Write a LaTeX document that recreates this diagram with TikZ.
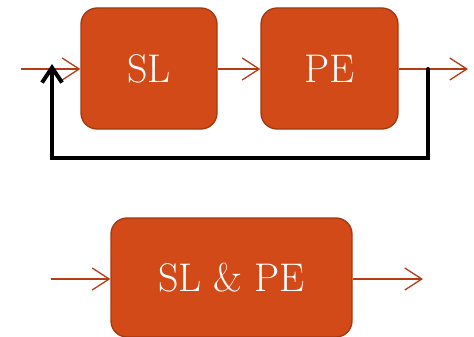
\documentclass[tikz,border=0pt]{standalone}
\usetikzlibrary{arrows.meta}
\definecolor{boxfill}{HTML}{D14A17}
\definecolor{boxline}{HTML}{A3380F}
\definecolor{flow}{HTML}{B53B12}
\begin{document}
\begin{tikzpicture}[x=1pt,y=-1pt,
  block/.style={draw=boxline, line width=1.3pt, fill=boxfill, rounded corners=16pt,
    text=white, font=\fontsize{40}{42}\selectfont, inner sep=0pt},
  flowarrow/.style={draw=flow, line width=1.3pt,
    -{Straight Barb[length=17pt,width=22pt,line width=1.3pt]}},
  feedback/.style={draw=black, line width=4pt,
    -{Straight Barb[length=15pt,width=20pt,line width=4pt]}}]
\useasboundingbox (0,0) rectangle (474,337);
% upper chain
\node[block, minimum width=136pt, minimum height=121pt] (sl) at (149,68.5) {SL};
\node[block, minimum width=137pt, minimum height=121pt] (pe) at (329.5,68.5) {PE};
\coordinate (in) at (21,69);
\coordinate (out) at (468,69);
\coordinate (tap) at (428,69);
\coordinate (join) at (52,69);
\draw[flowarrow] (in) -- (sl.west |- in);
\draw[flowarrow] (sl.east |- in) -- (pe.west |- in);
\draw[flowarrow] (pe.east |- in) -- (out);
\draw[feedback, line cap=round] (tap) -- (428,158) -- (52,158) -- ([yshift=5pt]join);
% combined block
\node[block, minimum width=241pt, minimum height=119pt] (slpe) at (231.5,277.5) {SL \& PE};
\coordinate (in2) at (51,279);
\coordinate (out2) at (423,279);
\draw[flowarrow] (in2) -- (slpe.west |- in2);
\draw[flowarrow] (slpe.east |- in2) -- (out2);
\end{tikzpicture}
\end{document}
